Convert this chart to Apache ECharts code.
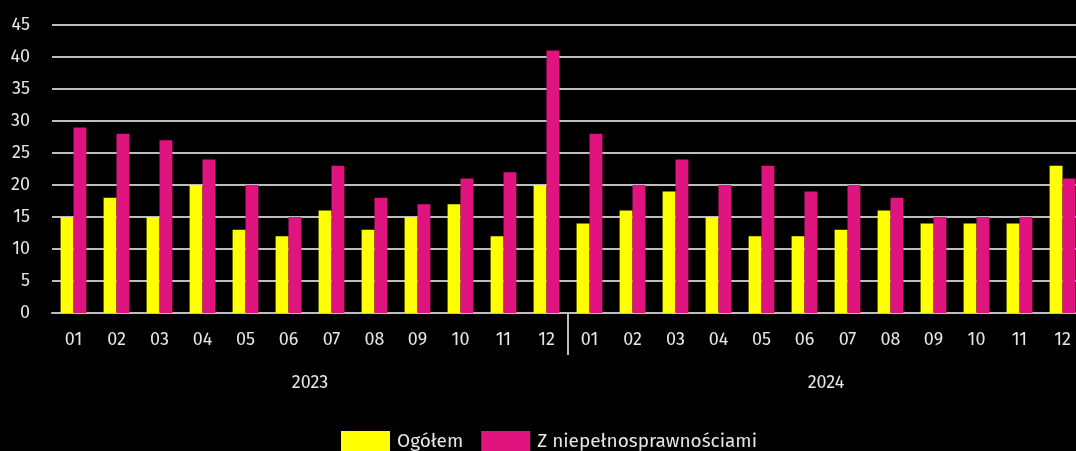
<!DOCTYPE html>
<html>
<head>
<meta charset="utf-8">
<script src="https://cdn.jsdelivr.net/npm/echarts@6/dist/echarts.min.js"></script>
<style>
  html, body { margin: 0; padding: 0; background: #000; }
  #chart { width: 1076px; height: 451px; }
</style>
</head>
<body>
<div id="chart"></div>
<script>
// months shown twice, once per year
const months = ['01', '02', '03', '04', '05', '06', '07', '08', '09', '10', '11', '12']
const years = ['2023', '2024']
const categories = years.flatMap(y => months.map(m => y + '-' + m))

const ogolem2023 = [15, 18, 15, 20, 13, 12, 16, 13, 15, 17, 12, 20]
const ogolem2024 = [14, 16, 19, 15, 12, 12, 13, 16, 14, 14, 14, 23]
const niep2023 = [29, 28, 27, 24, 20, 15, 23, 18, 17, 21, 22, 41]
const niep2024 = [28, 20, 24, 20, 23, 19, 20, 18, 15, 15, 15, 21]

const yTicks = { min: 0, max: 45, step: 5 }

// slots for the year axis: edges and middle are empty, years sit at quarter points
const yearSlots = ['start', years[0], 'mid', years[1], 'end']

const textColor = '#e6e6e6'
const gridColor = '#bdbdbd'
const font = "'Fira Sans', 'Open Sans', sans-serif"

const chart = echarts.init(document.getElementById('chart'))

const option = {
    backgroundColor: '#000',
    animation: false,
    textStyle: { fontFamily: font },
    grid: {
        left: 52,
        width: 1032,
        top: 25,
        height: 288,
        outerBoundsMode: 'none'
    },
    legend: {
        left: 341,
        top: 431,
        padding: 0,
        itemWidth: 49,
        itemHeight: 22,
        itemGap: 18,
        icon: 'rect',
        textStyle: { color: textColor, fontSize: 19, fontFamily: font, padding: [0, 0, 0, 2] }
    },
    xAxis: [
        {
            type: 'category',
            data: categories,
            axisLine: { lineStyle: { color: gridColor, width: 2 } },
            axisTick: { show: false },
            axisLabel: {
                color: textColor,
                fontSize: 18,
                margin: 18,
                interval: 0,
                formatter: v => v.split('-')[1]
            }
        },
        {
            type: 'category',
            data: yearSlots,
            position: 'bottom',
            boundaryGap: false,
            axisLine: { show: false },
            axisTick: {
                show: true,
                interval: i => i === 2,
                length: 42,
                lineStyle: { color: gridColor, width: 2 }
            },
            axisLabel: {
                color: textColor,
                fontSize: 18,
                margin: 61,
                interval: 0,
                formatter: v => (years.includes(v) ? v : '')
            },
            splitLine: { show: false }
        }
    ],
    yAxis: {
        type: 'value',
        min: yTicks.min,
        max: yTicks.max,
        interval: yTicks.step,
        axisLine: { show: false },
        axisTick: { show: false },
        axisLabel: { color: textColor, fontSize: 18, margin: 22 },
        splitLine: { lineStyle: { color: gridColor, width: 2 } }
    },
    series: [
        {
            name: 'Ogółem',
            type: 'bar',
            data: ogolem2023.concat(ogolem2024),
            barGap: '0%',
            barCategoryGap: '40%',
            itemStyle: { color: '#ffff00' }
        },
        {
            name: 'Z niepełnosprawnościami',
            type: 'bar',
            data: niep2023.concat(niep2024),
            barGap: '0%',
            barCategoryGap: '40%',
            itemStyle: { color: '#e0147f' }
        }
    ]
}

chart.setOption(option)
</script>
</body>
</html>
